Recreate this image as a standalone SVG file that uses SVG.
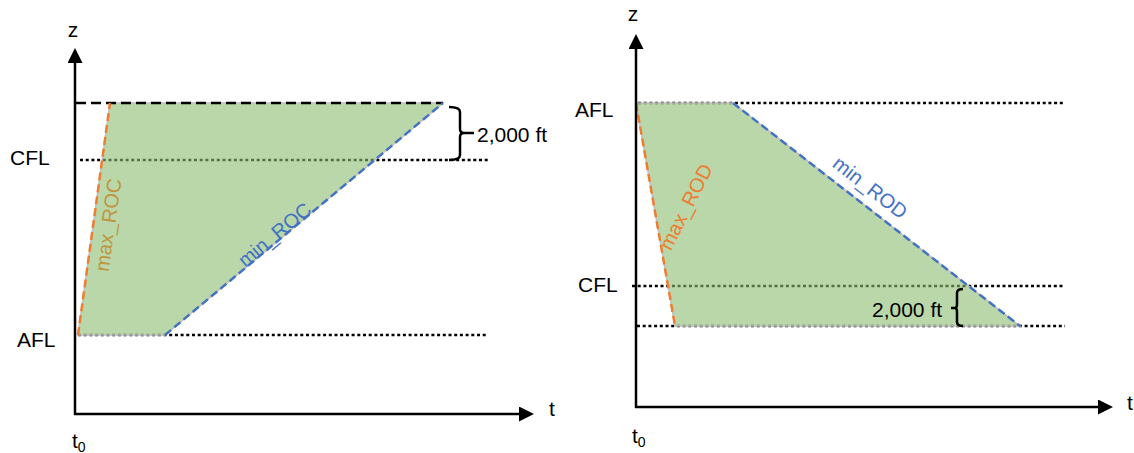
<svg xmlns="http://www.w3.org/2000/svg" width="1134" height="453" viewBox="0 0 1134 453">
<style>
text{font-family:"Liberation Sans",Arial,sans-serif;font-size:21px;fill:#000}
.axis{stroke:#000;stroke-width:2.5;fill:none}
.dot{stroke:#000;stroke-width:2.5;stroke-dasharray:3 2.7;fill:none}
.dash{stroke:#000;stroke-width:2.5;stroke-dasharray:10 5;fill:none}
.region{fill:#8ABC6E;fill-opacity:0.6;stroke:#bfbfbf;stroke-width:1.5}
.orange{stroke:#ED7D31;stroke-width:2.5;stroke-dasharray:8 4;fill:none}
.blue{stroke:#4472C4;stroke-width:2.5;stroke-dasharray:8 4;fill:none}
.brace{stroke:#000;stroke-width:2.5;fill:none}
.sub{font-size:14px}
.lbl{font-size:20px}
</style>
<defs>
<marker id="arr" viewBox="0 0 10 10" refX="0" refY="5" markerWidth="15" markerHeight="15" markerUnits="userSpaceOnUse" orient="auto">
<path d="M0,0 L10,5 L0,10 Z" fill="#000"/>
</marker>
</defs>

<g id="left-panel">
  <g id="left-levels">
    <line class="dot" x1="80" y1="160" x2="488" y2="160"/>
    <line class="dot" x1="78" y1="335" x2="488" y2="335"/>
  </g>
  <g id="left-region">
    <polygon class="region" points="78,335 110,103 443,103 165,335"/>
  </g>
  <g id="left-connectors">
    <line class="dash" x1="76" y1="103" x2="443" y2="103"/>
    <line class="orange" x1="78" y1="335" x2="110" y2="103"/>
    <line class="blue" x1="165" y1="335" x2="443" y2="103"/>
    <line class="axis" x1="75" y1="415" x2="75" y2="63" marker-end="url(#arr)"/>
    <line class="axis" x1="74" y1="414" x2="519" y2="414" marker-end="url(#arr)"/>
  </g>
  <g id="left-brace">
    <path class="brace" d="M449,107 Q460,107 460,112 V129 Q460,133 464,133 L474,133 M464,133 Q460,133 460,137 V155 Q460,160 449,160"/>
    <text x="477" y="142">2,000 ft</text>
  </g>
  <g id="left-labels">
    <text x="73" y="37" text-anchor="middle">z</text>
    <text x="549" y="416">t</text>
    <text x="72" y="448">t<tspan class="sub" dy="4">0</tspan></text>
    <text x="10" y="165">CFL</text>
    <text x="17" y="347">AFL</text>
    <text class="lbl" transform="translate(115,226) rotate(-82)" text-anchor="middle" style="fill:#BF9540">max_ROC</text>
    <text class="lbl" transform="translate(279,240) rotate(-39.8)" text-anchor="middle" style="fill:#4472C4">min_ROC</text>
  </g>
</g>

<g id="right-panel">
  <g id="right-levels">
    <line class="dot" x1="638" y1="103" x2="1065" y2="103"/>
    <line class="dot" x1="632" y1="286" x2="1065" y2="286"/>
    <line class="dot" x1="637" y1="326" x2="1065" y2="326"/>
  </g>
  <g id="right-region">
    <polygon class="region" points="636,103 733,103 1020,326 675,326"/>
  </g>
  <g id="right-connectors">
    <line class="orange" x1="636" y1="103" x2="675" y2="326"/>
    <line class="blue" x1="733" y1="103" x2="1020" y2="326"/>
    <line class="axis" x1="636" y1="408" x2="636" y2="49" marker-end="url(#arr)"/>
    <line class="axis" x1="635" y1="407" x2="1098" y2="407" marker-end="url(#arr)"/>
  </g>
  <g id="right-brace">
    <path class="brace" d="M963,289 Q957,289 957,293 V304 Q957,308 955,308 L951,308 M955,308 Q957,308 957,312 V322 Q957,326 963,326"/>
    <text x="872" y="317">2,000 ft</text>
  </g>
  <g id="right-labels">
    <text x="633" y="21" text-anchor="middle">z</text>
    <text x="1127" y="410">t</text>
    <text x="632" y="443">t<tspan class="sub" dy="4">0</tspan></text>
    <text x="575" y="117">AFL</text>
    <text x="578" y="292">CFL</text>
    <text class="lbl" transform="translate(692,210) rotate(-63)" text-anchor="middle" style="fill:#ED7D31">max_ROD</text>
    <text class="lbl" transform="translate(866,193) rotate(37.8)" text-anchor="middle" style="fill:#4472C4">min_ROD</text>
  </g>
</g>
</svg>
